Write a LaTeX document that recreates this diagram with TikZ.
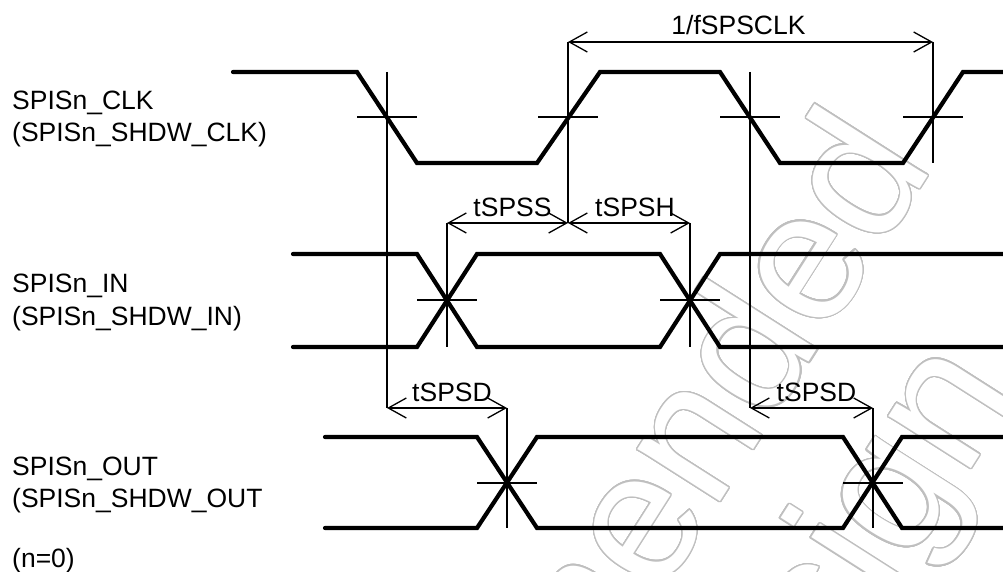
\documentclass[tikz,border=0pt]{standalone}
\usepackage{fontspec}
\setmainfont{Liberation Sans}
\usepackage{contour}
\contourlength{1.3pt}
\contournumber{32}
\usetikzlibrary{arrows.meta}

\begin{document}
\begin{tikzpicture}[x=1pt, y=-1pt,
    sig/.style={line width=4.2pt, line join=miter, line cap=round},
    guide/.style={line width=1.3pt},
    dim/.style={line width=1.3pt, {Straight Barb[length=18pt,width=20pt]}-{Straight Barb[length=18pt,width=20pt]}},
    lbl/.style={anchor=base west, inner sep=0pt, font=\fontsize{26.5}{32}\selectfont},
    tm/.style={anchor=base, inner sep=0pt, yshift=7pt, font=\fontsize{26.5}{32}\selectfont},
    wm/.style={anchor=base east, inner sep=0pt, rotate=57.5, font=\fontsize{185}{215}\selectfont}]
  \useasboundingbox (0,0) rectangle (1003,572);

  % watermark
  \begin{scope}
    \clip (0,0) rectangle (1003,572);
    \node[wm] (wm1) at (935,165) {\contour{black!25}{\textcolor{white}{Not recommended}}};
    \node[wm] (wm2) at (1020,392) {\contour{black!25}{\textcolor{white}{for new design}}};
  \end{scope}

  % levels and crossings
  \coordinate (hi) at (0,72);
  \coordinate (lo) at (0,163);
  \coordinate (inlo) at (0,347);
  \coordinate (outlo) at (0,528);
  \coordinate (c1) at (387,117);
  \coordinate (c2) at (568,117);
  \coordinate (c3) at (750,117);
  \coordinate (c4) at (933,117);
  \coordinate (i1) at (447,300);
  \coordinate (i2) at (690,300);
  \coordinate (o1) at (507,483);
  \coordinate (o2) at (873,483);
  \coordinate (p1) at (568,42);
  \coordinate (p2) at (933,42);
  \coordinate (s1) at (447,223);
  \coordinate (s2) at (568,223);
  \coordinate (s3) at (690,223);
  \coordinate (d1) at (387,408);
  \coordinate (d2) at (507,408);
  \coordinate (d3) at (750,408);
  \coordinate (d4) at (873,408);

  % signals
  \draw[sig] (233,72) -- (357,72) -- (417,163) -- (537,163) -- (600,72) -- (720,72)
    -- (780,163) -- (903,163) -- (963,72) -- (1006,72);
  \draw[sig] (293,254) -- (417,254) -- (477,347) -- (660,347) -- (720,254) -- (1006,254);
  \draw[sig] (293,347) -- (417,347) -- (477,254) -- (660,254) -- (720,347) -- (1006,347);
  \draw[sig] (325,437) -- (477,437) -- (537,528) -- (843,528) -- (902,437) -- (1006,437);
  \draw[sig] (325,528) -- (477,528) -- (537,437) -- (843,437) -- (902,528) -- (1006,528);

  % crossing marks
  \foreach \p in {c1,c2,c3,c4,i1,i2,o1,o2}
    \draw[guide] ([xshift=-30pt]\p) -- ([xshift=30pt]\p);
  \draw[guide] (c1 |- hi) -- (d1);
  \draw[guide] (p1) -- (s2);
  \draw[guide] (c3 |- hi) -- (d3);
  \draw[guide] (p2) -- (c4 |- lo);
  \draw[guide] (s1) -- (i1 |- inlo);
  \draw[guide] (s3) -- (i2 |- inlo);
  \draw[guide] (d2) -- (o1 |- outlo);
  \draw[guide] (d4) -- (o2 |- outlo);

  % timings
  \draw[dim] (p1) -- node[tm, xshift=-12pt] {1/fSPSCLK} (p2);
  \draw[dim] (s1) -- node[tm, xshift=5pt] {tSPSS} (s2);
  \draw[dim] (s2) -- node[tm, xshift=6pt] {tSPSH} (s3);
  \draw[dim] (d1) -- node[tm, xshift=5pt] {tSPSD} (d2);
  \draw[dim] (d3) -- node[tm, xshift=5pt] {tSPSD} (d4);

  % names
  \node[lbl] (clk) at (12,110) {SPISn\_CLK};
  \node[lbl] (clk2) at (12,142) {(SPISn\_SHDW\_CLK)};
  \node[lbl] (in) at (12,292) {SPISn\_IN};
  \node[lbl] (in2) at (12,325) {(SPISn\_SHDW\_IN)};
  \node[lbl] (out) at (12,475) {SPISn\_OUT};
  \node[lbl] (out2) at (12,507) {(SPISn\_SHDW\_OUT};
  \node[lbl] (note) at (12,567) {(n=0)};
\end{tikzpicture}
\end{document}
